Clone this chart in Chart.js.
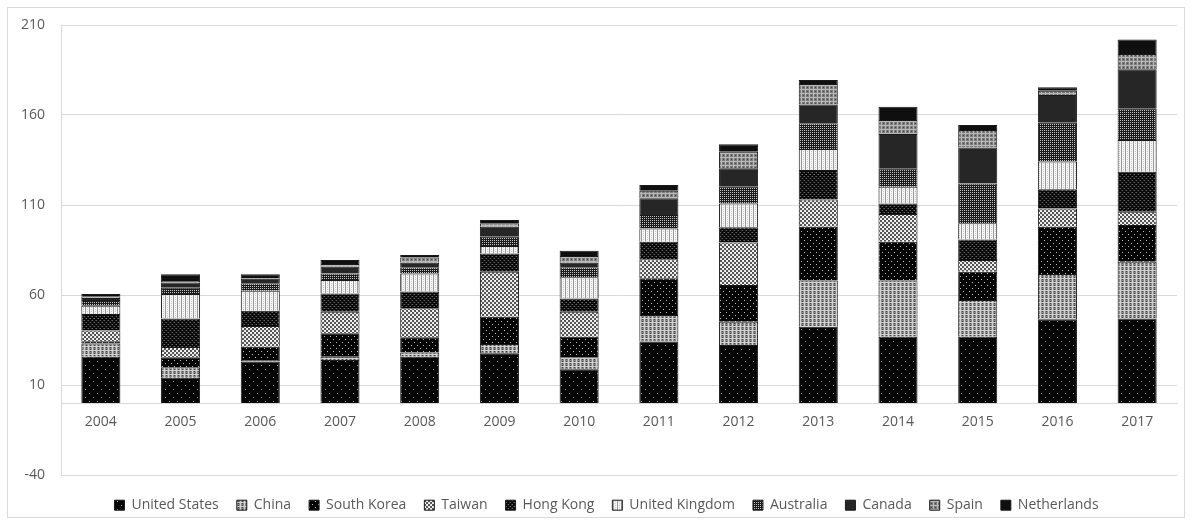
<!DOCTYPE html>
<html>
<head>
<meta charset="utf-8">
<script src="https://cdn.jsdelivr.net/npm/chart.js@4/dist/chart.umd.min.js"></script>
<style>
  html, body { margin: 0; padding: 0; background: #fff; }
  #wrap { position: absolute; left: 7px; top: 7px; width: 1178px; height: 511px; border: 1px solid #d9d9d9; box-sizing: border-box; }
  canvas { display: block; }
</style>
</head>
<body>
<div id="wrap"><canvas id="c"></canvas></div>
<script>
const years = ['2004','2005','2006','2007','2008','2009','2010','2011','2012','2013','2014','2015','2016','2017'];
const countries = ['United States','China','South Korea','Taiwan','Hong Kong','United Kingdom','Australia','Canada','Spain','Netherlands'];
const unitedStates  = [25.7, 14.0, 23.0, 23.9, 25.7, 27.6, 18.7, 34.1, 32.2, 42.4, 36.8, 36.8, 46.5, 47.0];
const china         = [ 7.4,  5.8,  0.9,  1.8,  2.3,  5.2,  6.7, 14.8, 13.0, 25.6, 31.2, 20.4, 25.2, 31.5];
const southKorea    = [ 1.2,  5.6,  7.4, 13.0,  8.5, 15.1, 11.4, 20.4, 20.4, 29.9, 21.6, 15.7, 26.2, 20.4];
const taiwan        = [ 6.0,  5.7, 11.5, 12.0, 16.1, 25.0, 13.9, 10.5, 23.5, 15.2, 15.4,  6.5, 10.2,  7.4];
const hongKong      = [ 9.2, 15.9,  8.5, 10.2,  9.3, 10.2,  7.4,  9.8,  8.5, 16.3,  5.9, 11.5, 10.6, 22.2];
const unitedKingdom = [ 4.5, 13.5, 11.1,  7.4, 10.1,  4.1, 11.7,  7.4, 13.3, 11.7,  9.3,  8.9, 15.4, 17.6];
const australia     = [ 3.2,  3.5,  4.1,  3.7,  3.4,  5.2,  5.6,  7.4,  9.3, 14.3, 10.2, 22.2, 21.6, 17.6];
const canada        = [ 1.2,  3.0,  2.5,  3.7,  2.5,  5.5,  2.5,  9.3, 10.2, 10.5, 19.0, 20.0, 15.4, 21.7];
const spain         = [ 0.6,  0.8,  0.5,  1.5,  3.0,  1.9,  3.8,  4.2,  9.2, 11.3,  7.8,  9.7,  2.4,  8.5];
const netherlands   = [ 1.5,  3.7,  2.0,  2.2,  1.3,  1.9,  2.9,  3.2,  4.1,  2.2,  7.4,  2.7,  1.9,  8.1];
const yTicks = [-40, 10, 60, 110, 160, 210];

const seriesValues = [unitedStates, china, southKorea, taiwan, hongKong, unitedKingdom, australia, canada, spain, netherlands];

function makePattern(w, h, draw) {
  const c = document.createElement('canvas');
  c.width = w; c.height = h;
  const g = c.getContext('2d');
  draw(g, w, h);
  return document.getElementById('c').getContext('2d').createPattern(c, 'repeat');
}
function px(g, color, pts) { g.fillStyle = color; pts.forEach(p => g.fillRect(p[0], p[1], p[2] || 1, p[3] || 1)); }

const patterns = [
  // United States: black with sparse light dots
  makePattern(8, 8, (g,w,h) => { g.fillStyle = '#050505'; g.fillRect(0,0,w,h); px(g, '#9a9a9a', [[1,1],[5,5]]); }),
  // China: grey grid
  makePattern(4, 4, (g,w,h) => { g.fillStyle = '#8a8a8a'; g.fillRect(0,0,w,h); px(g, '#d0d0d0', [[0,0,1,4],[0,2,4,1]]); px(g,'#444',[[2,1],[2,3]]); }),
  // South Korea: black with white dots
  makePattern(6, 6, (g,w,h) => { g.fillStyle = '#030303'; g.fillRect(0,0,w,h); px(g, '#bbbbbb', [[1,1],[4,4]]); }),
  // Taiwan: light checker
  makePattern(4, 4, (g,w,h) => { g.fillStyle = '#e8e8e8'; g.fillRect(0,0,w,h); px(g, '#555', [[0,0,2,2],[2,2,2,2]]); px(g,'#fff',[[3,0],[1,3]]); }),
  // Hong Kong: dark checker
  makePattern(4, 4, (g,w,h) => { g.fillStyle = '#0a0a0a'; g.fillRect(0,0,w,h); px(g, '#6a6a6a', [[0,0],[2,2]]); px(g,'#333',[[1,2],[3,0]]); }),
  // United Kingdom: light, vertical stripes
  makePattern(4, 4, (g,w,h) => { g.fillStyle = '#f4f4f4'; g.fillRect(0,0,w,h); px(g, '#9a9a9a', [[1,0,1,4]]); px(g,'#c8c8c8',[[3,1,1,1],[3,3,1,1]]); }),
  // Australia: checker
  makePattern(4, 4, (g,w,h) => { g.fillStyle = '#1c1c1c'; g.fillRect(0,0,w,h); px(g, '#c0c0c0', [[0,0,1,1],[2,2,1,1],[2,0],[0,2]]); }),
  // Canada: dark grey solid
  '#262626',
  // Spain: grey grid
  makePattern(4, 4, (g,w,h) => { g.fillStyle = '#7a7a7a'; g.fillRect(0,0,w,h); px(g, '#b8b8b8', [[1,0,1,4],[0,1,4,1]]); px(g,'#4a4a4a',[[3,3]]); }),
  // Netherlands: black
  '#0f0f0f'
];

const datasets = countries.map((name, i) => ({
  label: name,
  data: seriesValues[i],
  backgroundColor: patterns[i],
  borderColor: '#1a1a1a',
  borderWidth: 1,
  borderSkipped: 'start',
  barPercentage: 0.98,
  categoryPercentage: 0.5
}));

const font = { family: "'Open Sans', sans-serif", size: 14 };

const legendTweak = {
  id: 'legendTweak',
  afterInit(chart) {
    const lg = chart.legend;
    const origFit = lg.fit;
    lg.fit = function () { origFit.call(this); this.height = 42; };
    const origDraw = lg.draw;
    lg.draw = function () {
      this.left += 14; this.right += 14;
      origDraw.apply(this, arguments);
      this.left -= 14; this.right -= 14;
    };
  }
};

new Chart(document.getElementById('c'), {
  type: 'bar',
  data: { labels: years, datasets },
  plugins: [legendTweak],
  options: {
    responsive: true,
    maintainAspectRatio: false,
    animation: false,
    layout: { padding: { left: 0, right: 7, top: 17, bottom: 0 } },
    plugins: {
      tooltip: { enabled: false },
      legend: {
        position: 'bottom',
        title: { display: true, text: '', font: { size: 1 }, padding: { top: 4, bottom: 0 } },
        labels: { boxWidth: 10, boxHeight: 10, padding: 18, color: '#595959', font }
      }
    },
    scales: {
      x: {
        stacked: true,
        position: { y: 0 },
        afterFit: s => { s.height = 0; },
        grid: { display: false, drawTicks: false },
        border: { display: true, color: '#d9d9d9', width: 1 },
        ticks: { color: '#595959', font, padding: 11 }
      },
      y: {
        stacked: true,
        min: -40, max: 210,
        afterBuildTicks: s => { s.ticks = yTicks.map(v => ({ value: v })); },
        afterFit: s => { s.width = 53; },
        grid: { color: '#d9d9d9', drawTicks: true, tickLength: 16, tickColor: 'rgba(0,0,0,0)' },
        border: { display: true, color: '#d9d9d9' },
        ticks: { color: '#595959', font, padding: 0 }
      }
    }
  }
});
</script>
</body>
</html>
